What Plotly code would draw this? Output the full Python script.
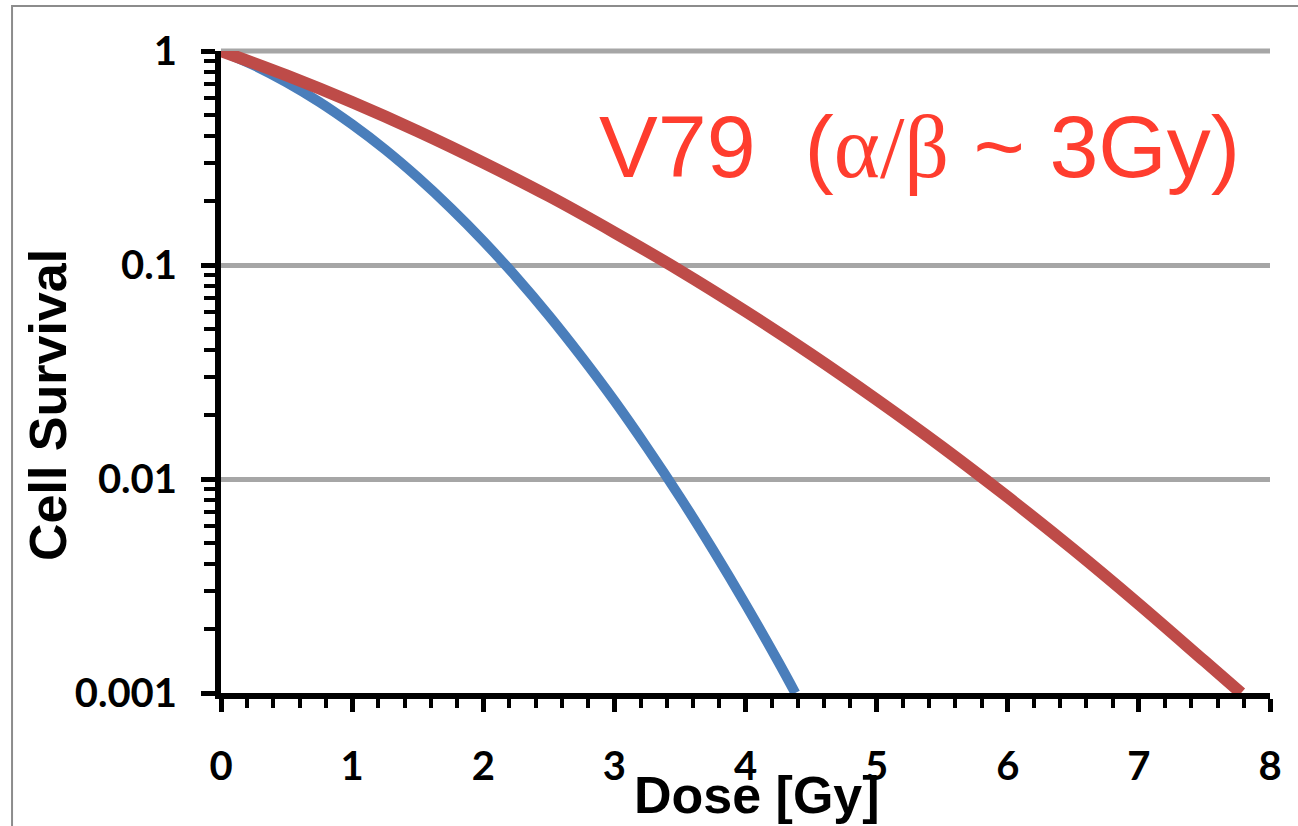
import plotly.graph_objects as go

# Dose values (Gy) and read-off survival fractions
dose_blue = [0, 0.25, 0.5, 0.75, 1.0, 1.25, 1.5, 1.75, 2.0, 2.25, 2.5, 2.75, 3.0, 3.25, 3.5, 3.75, 4.0, 4.25, 4.38]
surv_blue = [1.0, 0.858, 0.714, 0.578, 0.454, 0.347, 0.257, 0.185, 0.1295, 0.088, 0.0581, 0.0372, 0.0232, 0.0140,
             0.00823, 0.00469, 0.00260, 0.00140, 0.001]

dose_red = [0, 0.5, 1.0, 1.5, 2.0, 2.5, 3.0, 3.5, 4.0, 4.5, 5.0, 5.5, 6.0, 6.5, 7.0, 7.5, 7.78]
surv_red = [1.0, 0.769, 0.577, 0.422, 0.301, 0.210, 0.142, 0.0942, 0.0608, 0.0383, 0.0235, 0.0141, 0.00823,
            0.00469, 0.00260, 0.00141, 0.001]

y_tickvals = [0.001, 0.01, 0.1, 1]
y_ticktext = ["0.001", "0.01", "0.1", "1"]
x_tickvals = [0, 1, 2, 3, 4, 5, 6, 7, 8]

label_text = "V79  (<span style=\"font-family:'Liberation Serif'\">α/β</span> ~ 3Gy)"
x_title = "Dose [Gy]"
y_title = "Cell Survival"

fig = go.Figure()
fig.add_trace(go.Scatter(x=dose_blue, y=surv_blue, mode="lines",
                         line=dict(color="#4A7EBB", width=10, shape="spline", smoothing=1), showlegend=False))
fig.add_trace(go.Scatter(x=dose_red, y=surv_red, mode="lines",
                         line=dict(color="#BE4B48", width=12, shape="spline", smoothing=1), showlegend=False))

tickfont = dict(family="Lato", size=40, color="black", weight="bold")

fig.update_layout(
    width=1298, height=826,
    margin=dict(l=221, r=28, t=51, b=133),
    paper_bgcolor="white", plot_bgcolor="white",
    xaxis=dict(
        range=[0, 8], tickvals=x_tickvals, ticks="outside", ticklen=13, tickwidth=5, tickcolor="black",
        showline=True, linewidth=6, linecolor="black", showgrid=False, zeroline=False,
        tickfont=tickfont, ticklabelstandoff=20,
        minor=dict(dtick=0.2, ticks="outside", ticklen=9, tickwidth=4, tickcolor="black", showgrid=False),
    ),
    yaxis=dict(
        type="log", range=[-3, 0], tickvals=y_tickvals, ticktext=y_ticktext,
        ticks="outside", ticklen=14, tickwidth=5, tickcolor="black",
        showline=True, linewidth=6, linecolor="black",
        showgrid=True, gridcolor="#A6A6A6", gridwidth=5, zeroline=False,
        tickfont=tickfont, ticklabelstandoff=16,
        minor=dict(dtick="D1", ticks="outside", ticklen=11, tickwidth=4, tickcolor="black", showgrid=False),
    ),
    shapes=[
        dict(type="rect", xref="paper", yref="paper", x0=-0.1992, x1=1.04, y0=-0.25, y1=1.0701,
             line=dict(color="#8C8C8C", width=2), fillcolor="rgba(0,0,0,0)", layer="below"),
        dict(type="line", xref="paper", yref="paper", x0=0, x1=1, y0=1, y1=1,
             line=dict(color="#A6A6A6", width=5), layer="below"),
    ],
    annotations=[
        dict(text=label_text, xref="paper", yref="paper", x=0.6654, y=0.852, xanchor="center", yanchor="middle",
             showarrow=False, font=dict(family="Liberation Sans", size=88, color="#FF3D2E")),
        dict(text=x_title, xref="paper", yref="paper", x=0.511, y=-0.159, xanchor="center", yanchor="middle",
             showarrow=False, font=dict(family="Liberation Sans", size=52, color="black", weight="bold")),
        dict(text=y_title, xref="paper", yref="paper", x=-0.1649, y=0.4486, xanchor="center", yanchor="middle",
             textangle=-90, showarrow=False,
             font=dict(family="Liberation Sans", size=52, color="black", weight="bold")),
    ],
)

fig.write_html("out.html")
